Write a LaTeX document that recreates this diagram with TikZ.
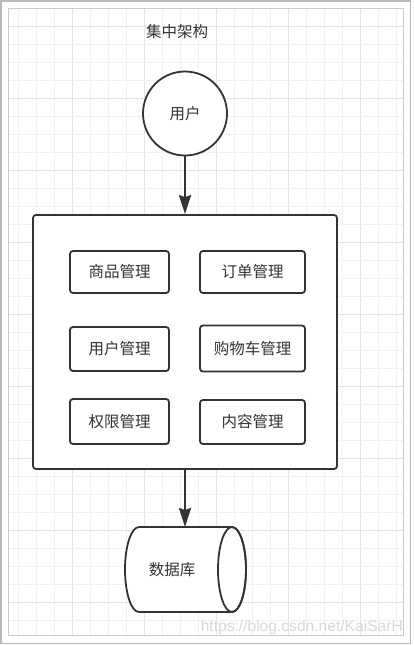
\documentclass[tikz,border=0pt]{standalone}
\usepackage{fontspec}
\setmainfont{Liberation Sans}
\newfontfamily\cjk{Noto Sans CJK SC}
\usetikzlibrary{arrows.meta}
\definecolor{ink}{HTML}{333333}
\definecolor{gridminor}{HTML}{F1F1F1}
\definecolor{gridmajor}{HTML}{E3E3E3}
\definecolor{frameouter}{HTML}{B8B8B8}
\definecolor{frameinner}{HTML}{CACACA}
\definecolor{wm}{HTML}{D9D9D9}
\tikzset{
  box/.style={draw=ink, line width=1.8pt, rounded corners=3pt, fill=white},
  lbl/.style={font=\cjk\fontsize{15.5}{17}\selectfont, text=ink},
  conn/.style={draw=ink, line width=2pt, -{Stealth[length=19pt,width=12pt,inset=2pt]}},
}
\begin{document}
\begin{tikzpicture}[x=1pt,y=-1pt]
\useasboundingbox (0,0) rectangle (413,646);
\fill[white] (0,0) rectangle (413,646);
% grid
\foreach \k in {1,...,22}{
  \pgfmathtruncatemacro{\isM}{mod(\k,4)==0}
  \ifnum\isM=1 \draw[gridmajor, line width=1pt] (18*\k,9) -- (18*\k,635);
  \else \draw[gridminor, line width=1pt] (18*\k,9) -- (18*\k,635); \fi
}
\foreach \k in {1,...,34}{
  \pgfmathtruncatemacro{\isM}{mod(\k-1,4)==0}
  \ifnum\isM=1 \draw[gridmajor, line width=1pt] (9,8+18*\k) -- (403,8+18*\k);
  \else \draw[gridminor, line width=1pt] (9,8+18*\k) -- (403,8+18*\k); \fi
}
% frames
\draw[frameinner, line width=1.2pt] (8.5,8.5) rectangle (403.5,635.5);
\draw[frameouter, line width=1.8pt] (0.9,0.9) rectangle (410.5,643.5);
% title
\node[lbl] (title) at (177,32) {集中架构};
% user circle
\node[draw=ink, line width=1.8pt, circle, fill=white, minimum size=84pt, inner sep=0pt, lbl] (user) at (185,113.5) {用户};
% main container
\node[box, minimum width=304pt, minimum height=254pt, inner sep=0pt] (sys) at (185,342) {};
% modules
\node[box, lbl, minimum width=99pt, minimum height=42pt, inner sep=0pt] (m1) at (119.5,272) {商品管理};
\node[box, lbl, minimum width=105pt, minimum height=42pt, inner sep=0pt] (m2) at (252.5,272) {订单管理};
\node[box, lbl, minimum width=99pt, minimum height=44pt, inner sep=0pt] (m3) at (119.5,349) {用户管理};
\node[box, lbl, minimum width=105pt, minimum height=46pt, inner sep=0pt] (m4) at (252.5,348.5) {购物车管理};
\node[box, lbl, minimum width=99pt, minimum height=45pt, inner sep=0pt] (m5) at (119.5,421.5) {权限管理};
\node[box, lbl, minimum width=105pt, minimum height=44pt, inner sep=0pt] (m6) at (252.5,422) {内容管理};
% database cylinder (horizontal)
\coordinate (dbtop) at (185,527);
\filldraw[fill=white, draw=ink, line width=1.8pt]
  (139,527) -- (232,527) arc[start angle=-90, end angle=90, x radius=14, y radius=42.5]
  -- (139,612) arc[start angle=90, end angle=270, x radius=14, y radius=42.5] -- cycle;
\draw[ink, line width=1.8pt] (232,569.5) ellipse[x radius=14, y radius=42.5];
\node[lbl] (db) at (172,570) {数据库};
% connectors
\draw[conn] (user.south) -- (sys.north);
\draw[conn] (sys.south) -- (dbtop);
% watermark
\node[text=wm, font=\fontsize{15.6}{17}\selectfont, anchor=east, inner sep=0pt] (wmk) at (403,627) {https://blog.csdn.net/KaiSarH};
\end{tikzpicture}
\end{document}
